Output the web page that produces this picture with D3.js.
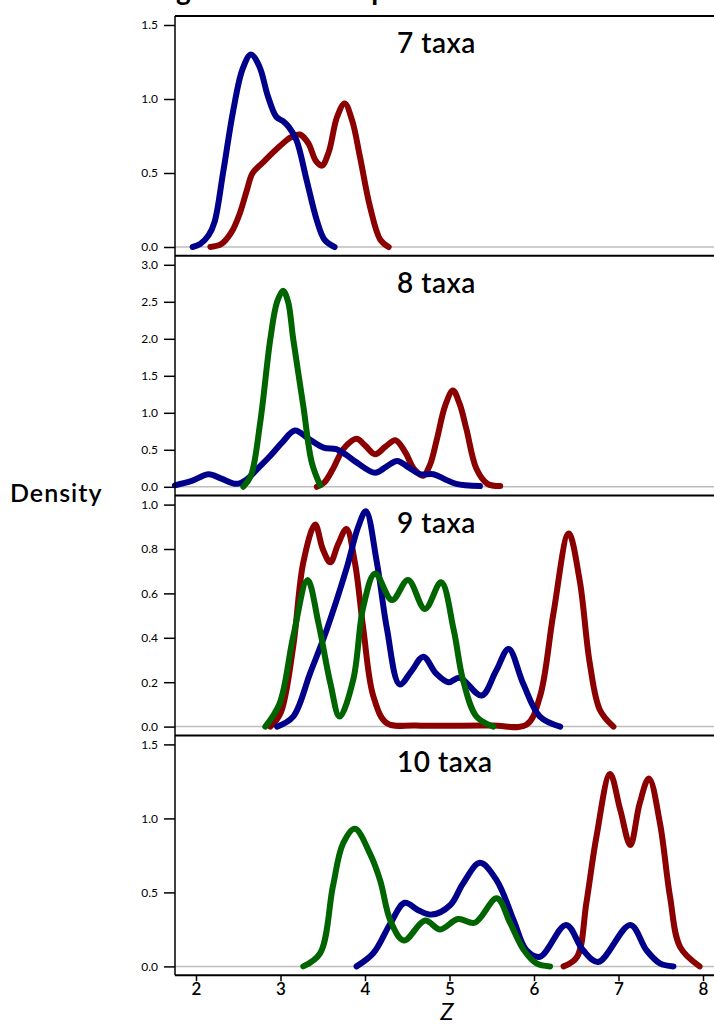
<!DOCTYPE html>
<html>
<head>
<meta charset="utf-8">
<script src="https://cdn.jsdelivr.net/npm/d3@7"></script>
<style>
  body { margin: 0; background: #fff; overflow: hidden; }
  text { font-family: Lato, "Noto Sans", sans-serif; fill: #000; }
</style>
</head>
<body>
<div id="chart"></div>
<script>
const WIDTH = 714;
const HEIGHT = 1026;
const LEFT = 175;
const TOP = 16;
const PANEL_H = 239.8;

// panel setup
const panelLabels = ["7 taxa", "8 taxa", "9 taxa", "10 taxa"];
const yMaxes = [1.5, 3.0, 1.0, 1.5];
const yTicks = [
  [0, 0.5, 1.0, 1.5],
  [0, 0.5, 1.0, 1.5, 2.0, 2.5, 3.0],
  [0, 0.2, 0.4, 0.6, 0.8, 1.0],
  [0, 0.5, 1.0, 1.5]
];
const xTicks = [2, 3, 4, 5, 6, 7, 8];

// density curves, [Z, density]
const red7 = [[2.17,0],[2.3,0.02],[2.42,0.1],[2.52,0.23],[2.6,0.38],[2.67,0.5],[2.79,0.57],[2.99,0.68],[3.12,0.74],[3.23,0.76],[3.33,0.7],[3.42,0.58],[3.49,0.55],[3.57,0.64],[3.67,0.88],[3.76,0.97],[3.85,0.85],[3.94,0.61],[4.06,0.27],[4.18,0.05],[4.28,0]];
const blue7 = [[1.96,0],[2.05,0.02],[2.15,0.08],[2.22,0.17],[2.32,0.5],[2.44,0.92],[2.55,1.2],[2.65,1.3],[2.75,1.22],[2.85,1.02],[2.95,0.88],[3.03,0.85],[3.1,0.81],[3.19,0.72],[3.31,0.45],[3.43,0.18],[3.52,0.05],[3.64,0]];

const red8 = [[3.43,0],[3.52,0.06],[3.62,0.24],[3.75,0.52],[3.9,0.65],[4.0,0.56],[4.12,0.44],[4.24,0.54],[4.36,0.63],[4.48,0.46],[4.58,0.24],[4.69,0.15],[4.77,0.3],[4.85,0.64],[4.95,1.1],[5.04,1.3],[5.12,1.12],[5.2,0.78],[5.32,0.24],[5.45,0.04],[5.6,0.01]];
const blue8 = [[1.75,0.02],[1.95,0.08],[2.15,0.17],[2.3,0.11],[2.48,0.04],[2.6,0.1],[2.75,0.27],[2.88,0.42],[3.02,0.6],[3.17,0.76],[3.32,0.66],[3.51,0.53],[3.66,0.51],[3.78,0.43],[3.9,0.33],[4.12,0.19],[4.25,0.27],[4.38,0.35],[4.52,0.26],[4.65,0.17],[4.81,0.17],[4.95,0.1],[5.08,0.04],[5.36,0.01]];
const green8 = [[2.56,0],[2.65,0.15],[2.76,0.87],[2.88,2.0],[2.96,2.5],[3.03,2.65],[3.09,2.5],[3.15,2.0],[3.27,1.09],[3.37,0.33],[3.47,0.02]];

const red9 = [[2.88,0],[3.0,0.06],[3.15,0.36],[3.27,0.74],[3.41,0.91],[3.5,0.8],[3.59,0.74],[3.68,0.82],[3.78,0.89],[3.88,0.74],[3.98,0.44],[4.1,0.135],[4.26,0.015],[4.6,0.005],[5.5,0.005],[5.91,0.008],[6.07,0.135],[6.23,0.51],[6.41,0.87],[6.54,0.66],[6.66,0.285],[6.78,0.075],[6.94,0]];
const blue9 = [[2.96,0],[3.15,0.045],[3.35,0.24],[3.55,0.44],[3.78,0.71],[3.92,0.9],[4.01,0.97],[4.14,0.74],[4.26,0.44],[4.41,0.19],[4.55,0.25],[4.69,0.315],[4.84,0.24],[4.99,0.2],[5.12,0.22],[5.38,0.14],[5.55,0.25],[5.7,0.35],[5.87,0.195],[6.07,0.045],[6.31,0]];
const green9 = [[2.82,0],[2.99,0.105],[3.15,0.405],[3.32,0.66],[3.45,0.465],[3.59,0.195],[3.7,0.045],[3.86,0.21],[3.98,0.54],[4.12,0.69],[4.32,0.57],[4.51,0.66],[4.71,0.53],[4.9,0.65],[5.05,0.435],[5.16,0.21],[5.32,0.045],[5.52,0]];

const red10 = [[6.35,0],[6.51,0.065],[6.62,0.43],[6.74,0.88],[6.9,1.3],[7.02,1.06],[7.14,0.82],[7.25,1.1],[7.36,1.27],[7.49,0.97],[7.61,0.47],[7.73,0.13],[7.96,0]];
const blue10 = [[3.9,0],[4.1,0.09],[4.3,0.29],[4.47,0.43],[4.63,0.38],[4.79,0.35],[5.01,0.415],[5.16,0.56],[5.36,0.7],[5.56,0.58],[5.76,0.31],[5.91,0.11],[6.07,0.065],[6.38,0.28],[6.58,0.11],[6.76,0.03],[7.14,0.28],[7.33,0.11],[7.49,0.02],[7.65,0]];
const green10 = [[3.27,0],[3.47,0.09],[3.62,0.54],[3.74,0.83],[3.88,0.93],[4.06,0.76],[4.18,0.58],[4.3,0.31],[4.46,0.175],[4.71,0.31],[4.89,0.25],[5.1,0.32],[5.3,0.295],[5.56,0.46],[5.72,0.29],[5.88,0.11],[6.03,0.02],[6.19,0]];

const panelSeries = [
  [{ data: red7, color: "#8b0000" }, { data: blue7, color: "#00008b" }],
  [{ data: red8, color: "#8b0000" }, { data: blue8, color: "#00008b" }, { data: green8, color: "#006400" }],
  [{ data: red9, color: "#8b0000" }, { data: blue9, color: "#00008b" }, { data: green9, color: "#006400" }],
  [{ data: red10, color: "#8b0000" }, { data: blue10, color: "#00008b" }, { data: green10, color: "#006400" }]
];

const svg = d3.select("#chart")
  .append("svg")
  .attr("width", WIDTH)
  .attr("height", HEIGHT);

const x = d3.scaleLinear().domain([2, 8]).range([196, 703]);
const xEnd = 730;

// title, cut off by the top edge in the original (only descenders show)
svg.append("text")
  .attr("x", 104)
  .attr("y", 0)
  .attr("font-size", 28)
  .attr("font-weight", "bold")
  .text("Average Z across sample sizes");

panelSeries.forEach((series, i) => {
  const top = TOP + i * PANEL_H;
  const g = svg.append("g").attr("transform", `translate(0,${top})`);
  const y = d3.scaleLinear().domain([0, yMaxes[i]]).range([231, 9]);

  // zero line
  g.append("line")
    .attr("x1", LEFT).attr("x2", xEnd)
    .attr("y1", y(0)).attr("y2", y(0))
    .attr("stroke", "#bdbdbd").attr("stroke-width", 1.5);

  // top border of panel
  g.append("line")
    .attr("x1", LEFT).attr("x2", xEnd)
    .attr("y1", 0).attr("y2", 0)
    .attr("stroke", "#000").attr("stroke-width", 2);

  const yAxis = g.append("g")
    .attr("transform", `translate(${LEFT},0)`)
    .call(d3.axisLeft(y).tickValues(yTicks[i]).tickFormat(d3.format(".1f")).tickSize(11).tickPadding(6));
  yAxis.select(".domain").remove();
  yAxis.selectAll(".tick line").attr("stroke", "#000").attr("stroke-width", 1.5);
  yAxis.selectAll(".tick text").attr("font-size", 12).attr("font-family", "Lato, sans-serif").attr("fill", "#000");

  const line = d3.line()
    .x(d => x(d[0]))
    .y(d => y(d[1]))
    .curve(d3.curveCatmullRom.alpha(0.5));

  series.forEach(s => {
    g.append("path")
      .datum(s.data)
      .attr("d", line)
      .attr("fill", "none")
      .attr("stroke", s.color)
      .attr("stroke-width", 6)
      .attr("stroke-linecap", "round")
      .attr("stroke-linejoin", "round");
  });

  g.append("text")
    .attr("x", 397)
    .attr("y", 37)
    .attr("font-size", 28)
    .attr("font-weight", 600)
    .attr("letter-spacing", 0.5)
    .text(panelLabels[i]);
});

const bottom = TOP + 4 * PANEL_H;

// left axis line across all panels
svg.append("line")
  .attr("x1", LEFT).attr("x2", LEFT)
  .attr("y1", TOP).attr("y2", bottom)
  .attr("stroke", "#000").attr("stroke-width", 1.5);

svg.append("line")
  .attr("x1", LEFT).attr("x2", xEnd)
  .attr("y1", bottom).attr("y2", bottom)
  .attr("stroke", "#000").attr("stroke-width", 2);

const xAxis = svg.append("g")
  .attr("transform", `translate(0,${bottom})`)
  .call(d3.axisBottom(x).tickValues(xTicks).tickFormat(d3.format("d")).tickSize(6).tickPadding(2));
xAxis.select(".domain").remove();
xAxis.selectAll(".tick line").attr("stroke", "#000").attr("stroke-width", 1.5);
xAxis.selectAll(".tick text").attr("font-size", 17).attr("font-weight", 600).attr("font-family", "Lato, sans-serif").attr("fill", "#000");

svg.append("text")
  .attr("x", 447)
  .attr("y", 1020)
  .attr("text-anchor", "middle")
  .attr("font-size", 24)
  .attr("font-style", "italic")
  .text("Z");

svg.append("text")
  .attr("x", 10)
  .attr("y", 502)
  .attr("font-size", 25)
  .attr("font-weight", 600)
  .attr("letter-spacing", 1)
  .text("Density");
</script>
</body>
</html>
